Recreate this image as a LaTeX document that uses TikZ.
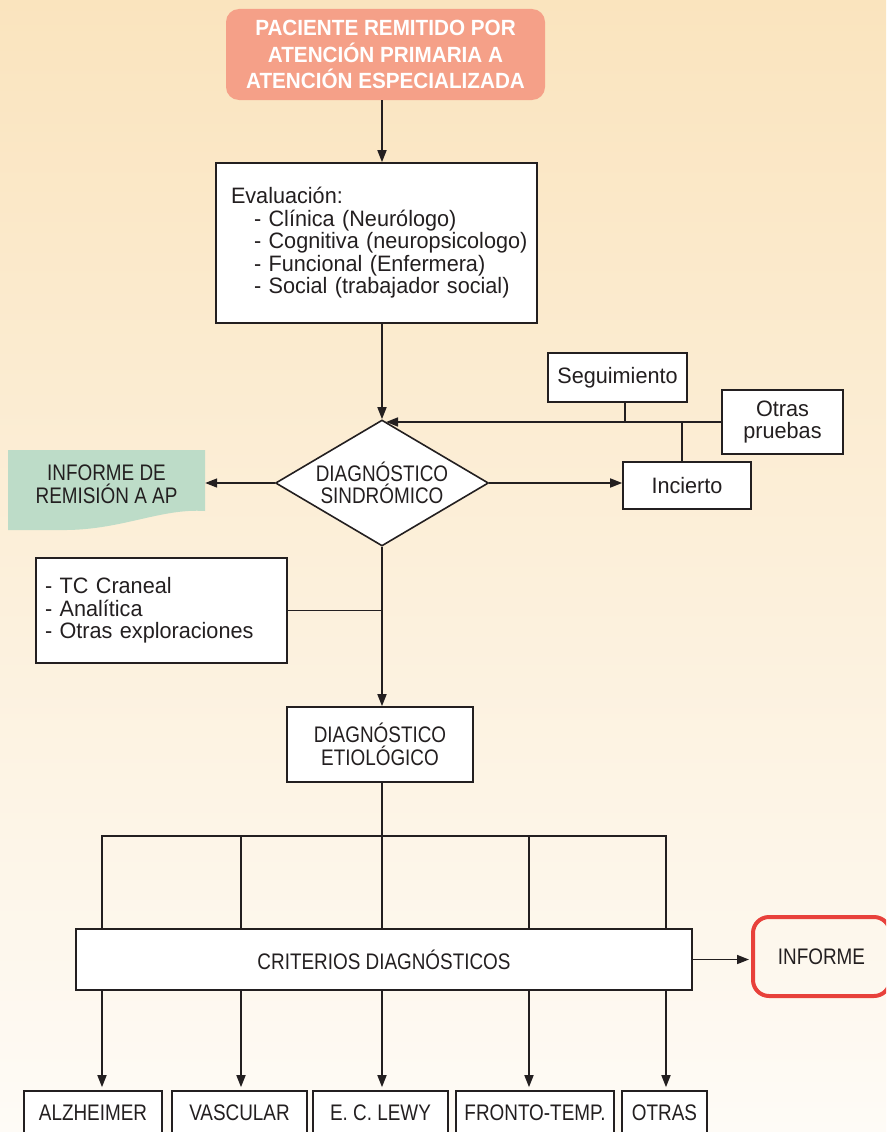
\documentclass[tikz,border=0pt]{standalone}
\usepackage{fontspec}
\setmainfont{Liberation Sans}[FakeStretch=0.97]
\newfontfamily\capf{Liberation Sans}[FakeStretch=0.84]
\newfontfamily\boldcapf{Liberation Sans}[FakeStretch=0.94]
\usetikzlibrary{shapes.geometric,arrows.meta}
\definecolor{ink}{HTML}{231F20}
\definecolor{bgtop}{HTML}{FAE4BE}
\definecolor{bgbot}{HTML}{FEFBF6}
\definecolor{salmon}{HTML}{F5A088}
\definecolor{mint}{HTML}{BDDCC8}
\definecolor{redline}{HTML}{E8413B}
\begin{document}
\begin{tikzpicture}[x=1pt,y=-1pt,
  box/.style={draw=ink, fill=white, line width=1.6pt, inner sep=0pt, text=ink, align=center,
              font=\fontsize{22.3}{22.5}\selectfont},
  caps/.style={font=\capf\fontsize{22.5}{22.5}\selectfont},
  arr/.style={draw=ink, line width=1.6pt, -{Triangle[length=12pt,width=9pt]}},
  ln/.style={draw=ink, line width=1.6pt}]
\useasboundingbox (0,0) rectangle (886,1132);
\clip (0,0) rectangle (886,1132);
\shade[top color=bgtop, bottom color=bgbot] (0,0) rectangle (886,1132);

% green document shape
\fill[mint] (8,450) -- (205,450) -- (205,511) .. controls (160,508) and (120,531) .. (60,530) -- (8,530) -- cycle;

% nodes
\node[fill=salmon, rounded corners=13pt, minimum width=319pt, minimum height=91pt, inner sep=0pt,
      text=white, align=center, font=\boldcapf\bfseries\fontsize{22}{26.5}\selectfont]
      (top) at (385.5,54.5) {PACIENTE REMITIDO POR\\ATENCIÓN PRIMARIA A\\ATENCIÓN ESPECIALIZADA};

\node[box, minimum width=321pt, minimum height=160pt, text width=291pt, align=left]
      (eval) at (376.5,243) {\mbox{Evaluación:}\\\mbox{\hspace*{23pt}- Clínica (Neurólogo)}\\\mbox{\hspace*{23pt}- Cognitiva (neuropsicologo)}\\\mbox{\hspace*{23pt}- Funcional (Enfermera)}\\\mbox{\hspace*{23pt}- Social (trabajador social)}};

\node[draw=ink, fill=white, line width=1.6pt, shape=diamond, aspect=1.69, minimum width=213pt,
      minimum height=126pt, inner sep=0pt, caps, align=center, text=ink]
      (diag) at (382,483) {DIAGNÓSTICO\\SINDRÓMICO};

\node[box, minimum width=139pt, minimum height=49pt] (seg) at (617.5,377.5) {Seguimiento};
\node[box, minimum width=121pt, minimum height=64pt] (otras) at (782.5,422) {Otras\\pruebas};
\node[box, minimum width=128pt, minimum height=47pt] (inc) at (687,485.5) {Incierto};

\node[caps, minimum width=197pt, inner sep=0pt, align=center, text=ink]
      (irep) at (106.5,484) {INFORME DE\\REMISIÓN A AP};

\node[box, minimum width=251pt, minimum height=105pt, text width=233pt, align=left]
      (tc) at (161.5,610.5) {- TC Craneal\\- Analítica\\- Otras exploraciones};

\node[box, caps, minimum width=186pt, minimum height=75pt] (etio) at (380,744.5) {DIAGNÓSTICO\\ETIOLÓGICO};

\node[box, caps, minimum width=616pt, minimum height=61pt] (crit) at (384,959.5) {CRITERIOS DIAGNÓSTICOS};

\node[draw=redline, line width=4pt, rounded corners=16pt, minimum width=137pt, minimum height=79pt,
      inner sep=0pt, caps, text=ink] (inf) at (821.5,956.5) {INFORME};

\node[box, caps, minimum width=138pt, minimum height=44pt] (alz) at (93,1113) {ALZHEIMER};
\node[box, caps, minimum width=135pt, minimum height=44pt] (vas) at (239.5,1113) {VASCULAR};
\node[box, caps, minimum width=135pt, minimum height=44pt] (lewy) at (380.5,1113) {E. C. LEWY};
\node[box, caps, minimum width=158pt, minimum height=44pt] (fro) at (535,1113) {FRONTO-TEMP.};
\node[box, caps, minimum width=85pt, minimum height=44pt] (otr) at (664.5,1113) {OTRAS};

% coordinates of the bus
\coordinate (b1) at (102,836);
\coordinate (b2) at (241,836);
\path (diag.south |- 0,836) coordinate (b3);
\coordinate (b4) at (529,836);
\coordinate (b5) at (666,836);

% connectors
\draw[arr] (diag.north |- top.south) -- (diag.north |- eval.north);
\draw[arr] (diag.north |- eval.south) -- (diag.north);
\draw[arr] (otras.west) -- ([xshift=4pt]diag.north |- otras.west);
\draw[ln] ([xshift=7.5pt]seg.south) -- ([xshift=7.5pt]seg.south |- otras.west);
\draw[ln] ([xshift=-5pt]inc.north) -- ([xshift=-5pt]inc.north |- otras.west);
\draw[arr] (diag.east) -- (diag.east -| inc.west);
\draw[arr] (diag.west) -- (diag.west -| irep.east);
\draw[arr] (diag.south) -- (diag.south |- etio.north);
\draw[ln] (tc.east) -- (tc.east -| diag.south);
\draw[ln] (diag.south |- etio.south) -- (b3);
\draw[ln] (b1 |- crit.north) -- (b1) -- (b5) -- (b5 |- crit.north);
\draw[ln] (b2) -- (b2 |- crit.north);
\draw[ln] (b3) -- (b3 |- crit.north);
\draw[ln] (b4) -- (b4 |- crit.north);
\draw[arr, shorten >=3pt] (b1 |- crit.south) -- (b1 |- alz.north);
\draw[arr, shorten >=3pt] (b2 |- crit.south) -- (b2 |- vas.north);
\draw[arr, shorten >=3pt] (b3 |- crit.south) -- (b3 |- lewy.north);
\draw[arr, shorten >=3pt] (b4 |- crit.south) -- (b4 |- fro.north);
\draw[arr, shorten >=3pt] (b5 |- crit.south) -- (b5 |- otr.north);
\draw[arr, shorten >=2pt] (crit.east) -- (crit.east -| inf.west);
\end{tikzpicture}
\end{document}
